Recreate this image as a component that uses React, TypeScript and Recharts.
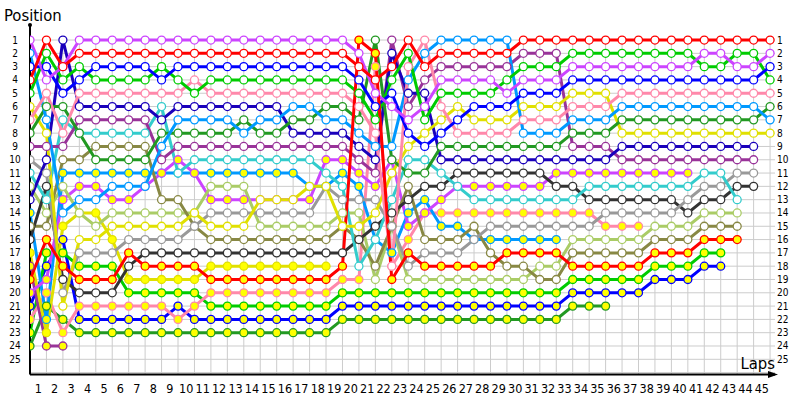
import React from 'react';
import { LineChart, Line, XAxis, YAxis, CartesianGrid, ReferenceLine } from 'recharts';

const laps = Array.from({ length: 46 }, (_, i) => i);
const positionTicks = [1,2,3,4,5,6,7,8,9,10,11,12,13,14,15,16,17,18,19,20,21,22,23,24,25];
const lapTicks = [0.5,1.5,2.5,3.5,4.5,5.5,6.5,7.5,8.5,9.5,10.5,11.5,12.5,13.5,14.5,15.5,16.5,17.5,18.5,19.5,20.5,21.5,22.5,23.5,24.5,25.5,26.5,27.5,28.5,29.5,30.5,31.5,32.5,33.5,34.5,35.5,36.5,37.5,38.5,39.5,40.5,41.5,42.5,43.5,44.5];

const N = null;
// white-filled markers
const red = [4,1,3,2, 2,2,2,2,2,2,2,2,2,2,2,2,2,2,2,2, 3,4,3,1,3, 2,2,2,2,2, 1,1,1,1,1,1,1,1,1,1,1,1,1,1,1,1];
const violet = [1,4,3,1, 1,1,1,1,1,1,1,1,1,1,1,1,1,1,1,1, 2,5,6,7,6, 4,4,4,4,5, 4,4,4, 3,3,3,3,3,3,3,3, 2,2,3,3,2];
const blue = [3,3,5,4, 3,3,3,3,4,3,3,3,3,3,3,3,3,3,3,3, 4,6,5,8,9, 8,7,6,6,6, 5,5,5, 4,4,4,4,4,4,4,4,4,4,4,4, 3];
const green = [5,2,4,3, 4,4,4,4,3,4,5,4,4,4,4,4,4,4,4,4, 5,7,4,2,7, 5,5,5,5,4, 3,3,3, 2,2,2,2,2,2,2,2, 3,3,2,2,4];
const pink = [7,5,8,5, 5,5,5,5,5,5,4,5,5,5,5,5,5,5,5,5, 6,8,18,3,1, 6,8,8,8,8, 7,7,7, 6,6,6, 5,5,5,5,5,5,5,5,5,5];
const sky = [2,7,14,13,13,12,12,12,9,7,7,7,7,8,7,7,6,6,7,7, 8,9,9,4,2, 1,1,1,1,1, 8,8,8, 7,7,7, 6,6,6,6,6,6,6,6,6, 7];
const dkgreen = [8,6,6,8,10,10,10,10,8,8,8,8,8,7,8,8,7,7,6,6, 7,1,10,11,11, 9,9,9,9,9, 9,9,9, 8,8,8, 7,7,7,7,7,7,7,7,7, 6];
const yellow = [6,8,21,16,16,15,15,15,15,15,14,15,15,15,13,13,13,12,12,15, 15,14,11,9,8, 7,6,7,7,7, 6,6,6, 5,5,5, 8,8,8,8,8,8,8,8,8,8];
const navy = [13,10,1,6,6,6,6,6,7,6,6,6,6,6,6,6,8,8,8,8, 9,10,2,5,5, 10,10,10,10,10, 10,10,10, 10,10,10, 9,9,9,9,9,9,9,9,9, N];
const purple = [9,9,9,7,7,7,7,7,10,9,9,9,9,9,9,9,9,9,9,9, 10,11,1,6,4, 3,3,3,3,3, 2,2,2, 9,9,9, 10,10,10,10,10,10,10,10,10, N];
const cyan = [11,13,7,8,8,8,8,8,6,11,10,10,10,10,10,10,10,10,11,12, 18,16,13,10,10, 11,12,13,13,13, 13,13,13, 13,12,12, 12,12,12,12,12, 11,11,13, N,N];
const gray = [10,11,20,17,17,17,16,16,16,16,15,14,14,14,14,14,14,14,12,13, 13,13,15,18,17, 17,17,16,15,15, 15,15,15, 15,15,14, 14,14,14,14,13, 12,12,11,11, N];
const black = [16,12,19,20,20,20,18,17,17,17,17,17,17,17,17,17,17,17,17,17, 16,15,14,13,12, 12,11,11,11,11, 11,11,12, 12,13,13, 13,13,13,13,14, 13,13,12,12, N];
const olive = [15,15,10,10,9,9,9,9,13,13,15,16,16,16,16,16,16,16,16,15, 16,18,15,12,16, 16,16,15,17,18, 18,19,19, 17,17,17, 17,17,16,16,16, 15,15,15, N,N];
const lgreen = [12,14,12,14,15,14,14,14,14,14,14,12,12,12,15,15,15,15,15,14, 14,19,15,19,19, 19,19,19,19,19, 19,18,18, 16,16,16, 16,16,15,15,15, 14,14,14, N,N];
// yellow-filled markers
const violetY = [20,19,13,12,12,13,13,12,11,10,11,13,13,13,13,13,13,13,10,10, 11,12,10,15,14, 13,12,12,12,12, 12,12,11, 11,11,11, 11,11,11,11,11, N,N,N,N,N];
const skyY = [14,22,11,11,11,11,11,11,11,11,11,11,11,11,11,11,11,12,12,11, 12,16,17,14,13, 15,15,16,16,16, 16,16,16, N,N,N,N,N,N,N,N,N,N,N,N,N];
const redY = [19,16,18,19,19,19,17,18,18,18,18,19,19,19,19,19,19,19,19,18, 1,2,19,17,18, 18,18,18,18,17, 17,17,17, 18,18,18, 18,18,17,17,17, 16,16,16, N,N];
const yellowY = [17,23,15,14,14,16,19,19,19,19,19,18,18,18,18,18,18,18,18, N,N,N,N,N,N,N,N,N,N,N,N,N,N,N,N,N,N,N,N,N,N,N,N,N,N,N];
const purpleY = [18,24,24, N,N,N,N,N,N,N,N,N,N,N,N,N,N,N,N,N,N,N,N,N,N,N,N,N,N,N,N,N,N,N,N,N,N,N,N,N,N,N,N,N,N,N];
const pinkY = [22,20,23,21,21,21,21,21,21,22,21,20,20,20,20,20,20,20,20,19, 19,3,18,16,14, 14,14,14,14,14, 14,14,14, 14,14,15, 15,15, N,N,N,N,N,N,N,N];
const greenY = [23,17,17,18,18,18,20,20,20,20,20,21,21,21,21,21,21,21,21,20, 20,20,20,20,20, 20,20,20,20,20, 20,20,20, 19,19,19, 19,19,18,18,18, 17,17, N,N,N];
const blueY = [21,18,16,22,22,22,22,22,22,21,22,22,22,22,22,22,22,22,22,21, 21,21,21,21,21, 21,21,21,21,21, 21,21,21, 20,20,20, 20,20,19,19,19, 18,18, N,N,N];
const dkgreenY = [24,21,22,23,23,23,23,23,23,23,23,23,23,23,23,23,23,23,23,22, 22,22,22,22,22, 22,22,22,22,22, 22,22,22, 21,21,21, N,N,N,N,N,N,N,N,N,N];

const WHITE = '#ffffff';
const YEL = '#ffff00';

const series = [
  { key: 'dkgreenY', values: dkgreenY, color: '#229922', fill: YEL },
  { key: 'blueY', values: blueY, color: '#0000ff', fill: YEL },
  { key: 'greenY', values: greenY, color: '#00cc00', fill: YEL },
  { key: 'pinkY', values: pinkY, color: '#ff88aa', fill: YEL },
  { key: 'purpleY', values: purpleY, color: '#993399', fill: YEL },
  { key: 'yellowY', values: yellowY, color: '#e0e000', fill: YEL },
  { key: 'skyY', values: skyY, color: '#0099ff', fill: YEL },
  { key: 'violetY', values: violetY, color: '#cc44ff', fill: YEL },
  { key: 'lgreen', values: lgreen, color: '#aacc66', fill: WHITE },
  { key: 'olive', values: olive, color: '#888844', fill: WHITE },
  { key: 'black', values: black, color: '#333333', fill: WHITE },
  { key: 'gray', values: gray, color: '#999999', fill: WHITE },
  { key: 'cyan', values: cyan, color: '#33cccc', fill: WHITE },
  { key: 'purple', values: purple, color: '#993399', fill: WHITE },
  { key: 'navy', values: navy, color: '#1a00bb', fill: WHITE },
  { key: 'yellow', values: yellow, color: '#e0e000', fill: WHITE },
  { key: 'dkgreen', values: dkgreen, color: '#229922', fill: WHITE },
  { key: 'sky', values: sky, color: '#0099ff', fill: WHITE },
  { key: 'pink', values: pink, color: '#ff88aa', fill: WHITE },
  { key: 'green', values: green, color: '#00cc00', fill: WHITE },
  { key: 'blue', values: blue, color: '#0000ff', fill: WHITE },
  { key: 'violet', values: violet, color: '#cc44ff', fill: WHITE },
  { key: 'red', values: red, color: '#ff0000', fill: WHITE },
  { key: 'redY', values: redY, color: '#ff0000', fill: YEL },
];

const data = laps.map((lap, i) => {
  const row: any = { lap };
  series.forEach((s) => { row[s.key] = s.values[i]; });
  return row;
});

const FONT = '"DejaVu Sans Condensed", "DejaVu Sans", Verdana, sans-serif';

const XTick = (props: any) => {
  const { x, y, payload } = props;
  return (
    <text x={x} y={y + 18.5} textAnchor="middle" fontSize={12.5} fontFamily={FONT} fontStretch="condensed" fill="#000">
      {String(payload.value + 0.5)}
    </text>
  );
};
const LeftTick = (props: any) => {
  const { x, y, payload } = props;
  return (
    <text x={x - 15} y={y + 3.5} textAnchor="middle" fontSize={10} fontFamily={FONT} fontStretch="condensed" fill="#000">
      {payload.value}
    </text>
  );
};
const RightTick = (props: any) => {
  const { x, y, payload } = props;
  return (
    <text x={x + 2} y={y + 3.5} textAnchor="start" fontSize={10} fontFamily={FONT} fontStretch="condensed" fill="#000">
      {payload.value}
    </text>
  );
};

const LapsLabel = (props: any) => {
  const vb = props.viewBox || { x: 30, y: 374.6, width: 745 };
  const right = vb.x + vb.width;
  const y = vb.y;
  return (
    <g>
      <polygon points={`${right + 3},${y} ${right - 7},${y - 3.5} ${right - 7},${y + 3.5}`} fill="#000" />
      <text x={right} y={y - 6} textAnchor="end" fontSize={16.5} fontFamily={FONT} fontStretch="condensed" fill="#000">Laps</text>
    </g>
  );
};
const PosLabel = (props: any) => {
  const vb = props.viewBox || { x: 0, y: 25, width: 30 };
  const ax = vb.x + vb.width;
  return (
    <g>
      <circle cx={ax} cy={vb.y} r={2} fill="#000" />
      <text x={4} y={vb.y - 4} textAnchor="start" fontSize={16.5} fontFamily={FONT} fontStretch="condensed" fill="#000">Position</text>
    </g>
  );
};

export default function App() {
  return (
    <div style={{ position: 'absolute', left: 0, top: 0, width: 800, height: 400, background: '#fff' }}>
      <LineChart width={800} height={400} data={data} margin={{ top: 25, right: 0, bottom: 0, left: 0 }}>
        <CartesianGrid vertical={false} horizontalValues={[1,2,3,4,5,6,7,8,9,10,11,12,13,14,15,16,17,18,19,20,21,22,23,24,25,26]} stroke="#cccccc" strokeWidth={1} />
        {laps.map((l) => (
          <ReferenceLine key={'v' + l} segment={[{ x: l, y: 0.85 }, { x: l, y: 26.15 }]} stroke="#cccccc" strokeWidth={1} ifOverflow="extendDomain" />
        ))}
        <XAxis dataKey="lap" type="number" domain={[0, 45.3]} ticks={lapTicks} interval={0} tick={<XTick />} tickLine={false} tickSize={0} tickMargin={0} height={25.4} axisLine={{ stroke: '#000', strokeWidth: 2 }} allowDataOverflow label={<LapsLabel />} />
        <YAxis yAxisId={0} reversed type="number" domain={[-0.13, 26.15]} ticks={positionTicks} interval={0} tick={<LeftTick />} tickLine={false} tickSize={0} tickMargin={0} width={30} axisLine={{ stroke: '#000', strokeWidth: 2 }} allowDataOverflow label={<PosLabel />} />
        <YAxis yAxisId="r" orientation="right" reversed type="number" domain={[-0.13, 26.15]} ticks={positionTicks} interval={0} tick={<RightTick />} tickLine={false} tickSize={0} tickMargin={0} width={25} axisLine={false} allowDataOverflow />
        {series.map((s) => (
          <Line
            key={s.key}
            yAxisId={0}
            dataKey={s.key}
            type="linear"
            stroke={s.color}
            strokeWidth={3}
            connectNulls={false}
            isAnimationActive={false}
            dot={{ r: 4, stroke: s.color, strokeWidth: 1.3, fill: s.fill }}
            activeDot={false}
          />
        ))}
      </LineChart>
    </div>
  );
}
